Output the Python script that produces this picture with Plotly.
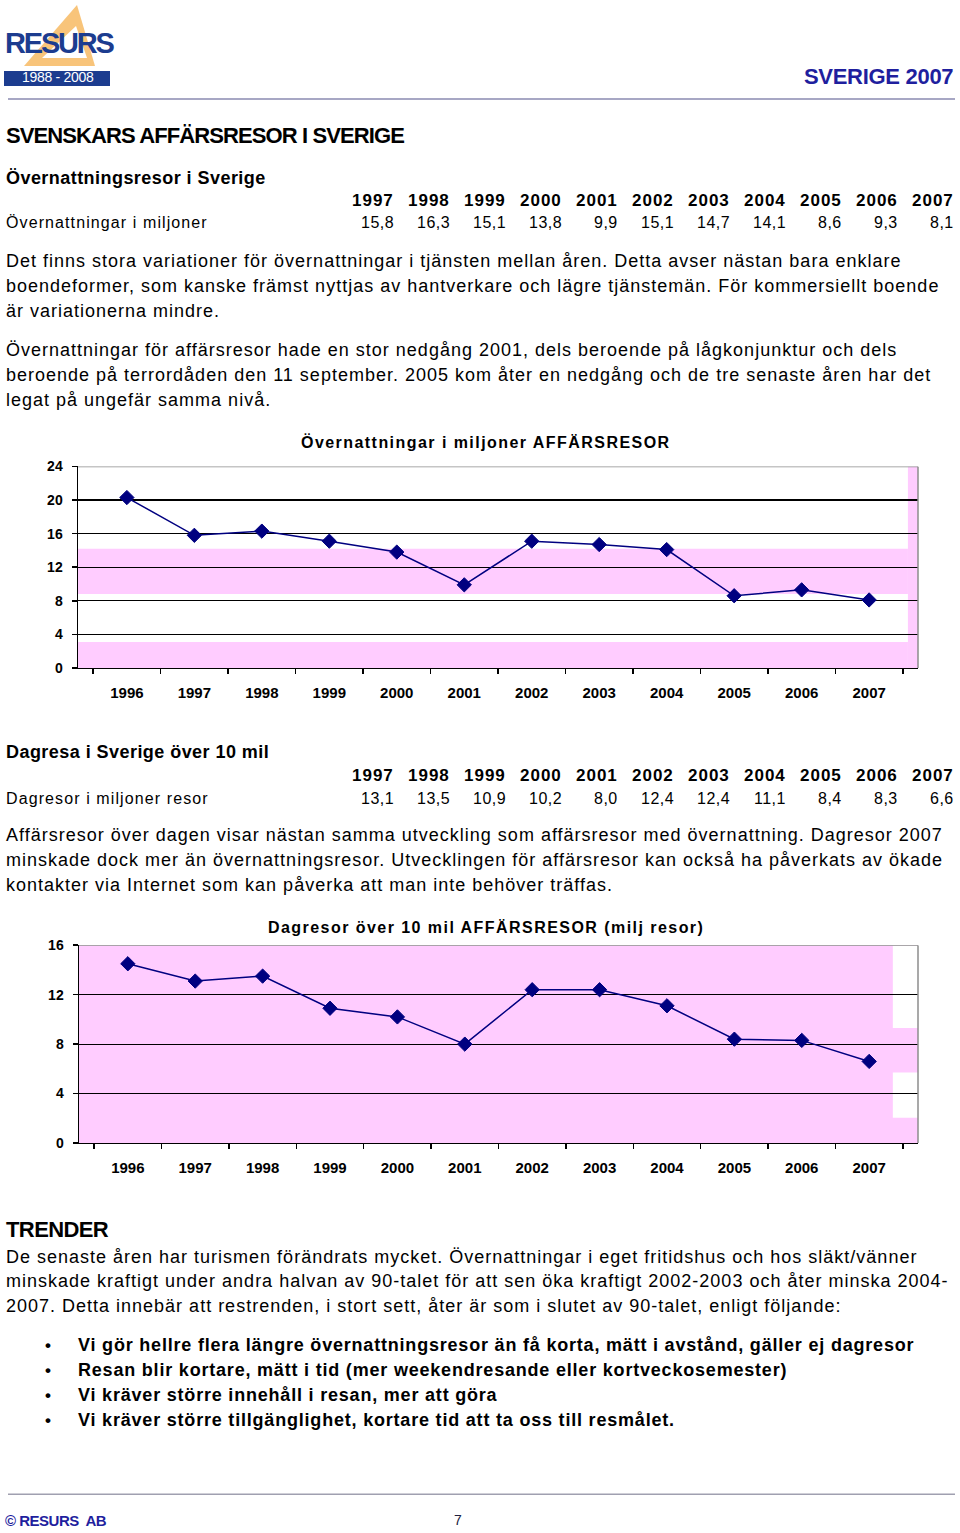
import plotly.graph_objects as go

W, H = 960, 1533
FONT = "Arial, 'Liberation Sans', Helvetica, sans-serif"

# ---------------- data ----------------
years_table = ["1997", "1998", "1999", "2000", "2001", "2002", "2003", "2004", "2005", "2006", "2007"]
overnight_table = [15.8, 16.3, 15.1, 13.8, 9.9, 15.1, 14.7, 14.1, 8.6, 9.3, 8.1]
daytrip_table = [13.1, 13.5, 10.9, 10.2, 8.0, 12.4, 12.4, 11.1, 8.4, 8.3, 6.6]

chart_years = ["1996", "1997", "1998", "1999", "2000", "2001", "2002", "2003", "2004", "2005", "2006", "2007"]
overnight_chart = [20.3, 15.8, 16.3, 15.1, 13.8, 9.9, 15.1, 14.7, 14.1, 8.6, 9.3, 8.1]
daytrip_chart = [14.5, 13.1, 13.5, 10.9, 10.2, 8.0, 12.4, 12.4, 11.1, 8.4, 8.3, 6.6]

y1_ticks = [0, 4, 8, 12, 16, 20, 24]
y2_ticks = [0, 4, 8, 12, 16]

para1 = [
    "Det finns stora variationer för övernattningar i tjänsten mellan åren. Detta avser nästan bara enklare",
    "boendeformer, som kanske främst nyttjas av hantverkare och lägre tjänstemän. För kommersiellt boende",
    "är variationerna mindre.",
]
para2 = [
    "Övernattningar för affärsresor hade en stor nedgång 2001, dels beroende på lågkonjunktur och dels",
    "beroende på terrordåden den 11 september. 2005 kom åter en nedgång och de tre senaste åren har det",
    "legat på ungefär samma nivå.",
]
para3 = [
    "Affärsresor över dagen visar nästan samma utveckling som affärsresor med övernattning. Dagresor 2007",
    "minskade dock mer än övernattningsresor. Utvecklingen för affärsresor kan också ha påverkats av ökade",
    "kontakter via Internet som kan påverka att man inte behöver träffas.",
]
para4 = [
    "De senaste åren har turismen förändrats mycket. Övernattningar i eget fritidshus och hos släkt/vänner",
    "minskade kraftigt under andra halvan av 90-talet för att sen öka kraftigt 2002-2003 och åter minska 2004-",
    "2007. Detta innebär att restrenden, i stort sett, åter är som i slutet av 90-talet, enligt följande:",
]
bullets = [
    "Vi gör hellre flera längre övernattningsresor än få korta, mätt i avstånd, gäller ej dagresor",
    "Resan blir kortare, mätt i tid (mer weekendresande eller kortveckosemester)",
    "Vi kräver större innehåll i resan, mer att göra",
    "Vi kräver större tillgänglighet, kortare tid att ta oss till resmålet.",
]

title1 = "Övernattningar i miljoner AFFÄRSRESOR"
title2 = "Dagresor över 10 mil AFFÄRSRESOR (milj resor)"

NAVY = "#000080"
PINK = "#ffccff"
BLUE = "#1f1f9e"
LOGO_BLUE = "#1c3c8f"
LOGO_ORANGE = "#f8c47a"

# vertical calibration of the page capture
VS, VOFF = 0.9907, 6.0


def X(p):
    return p / W


def Y(p):
    return 1 - ((p - VOFF) / VS) / H


annotations = []


def txt(s, x, y, size=17, bold=False, color="#000000", anchor="left", ls=None):
    t = s
    if ls is not None:
        t = f'<span style="letter-spacing:{ls}px">{s}</span>'
    annotations.append(dict(
        text=t, x=X(x), y=Y(y - 1), xref="paper", yref="paper",
        xanchor=anchor, yanchor="middle", showarrow=False,
        font=dict(family=FONT, size=size, color=color, weight="bold" if bold else "normal"),
    ))


def fmt(v):
    return f"{v:.1f}".replace(".", ",")


# ---------------- header ----------------
txt("SVERIGE 2007", 955, 76, size=22, bold=True, color=BLUE, anchor="right", ls=-0.3)
txt("RESURS", 3, 42, size=29, bold=True, color=LOGO_BLUE, ls=-2.2)
txt("1988 - 2008", 58, 76.5, size=14, color="#ffffff", anchor="center", ls=-0.3)

# ---------------- section 1 ----------------
txt("SVENSKARS AFFÄRSRESOR I SVERIGE", 4, 135, size=22, bold=True, ls=-0.9)
txt("Övernattningsresor i Sverige", 4, 177, size=18, bold=True, ls=0.45)
for i, yr in enumerate(years_table):
    txt(yr, 396 + 56 * i, 200, size=17, bold=True, anchor="right", ls=1.0)
txt("Övernattningar i miljoner", 4, 222, size=16, ls=1.1)
for i, v in enumerate(overnight_table):
    txt(fmt(v), 396 + 56 * i, 222, size=16, anchor="right", ls=0.5)
for k, line in enumerate(para1):
    txt(line, 4, 260 + 25 * k, size=18, ls=1.0)
for k, line in enumerate(para2):
    txt(line, 4, 349 + 25 * k, size=18, ls=1.0)
txt(title1, 486, 441, size=16, bold=True, anchor="center", ls=1.45)

# ---------------- section 2 ----------------
txt("Dagresa i Sverige över 10 mil", 4, 752, size=18, bold=True, ls=0.45)
for i, yr in enumerate(years_table):
    txt(yr, 396 + 56 * i, 775, size=17, bold=True, anchor="right", ls=1.0)
txt("Dagresor i miljoner resor", 4, 798, size=16, ls=1.1)
for i, v in enumerate(daytrip_table):
    txt(fmt(v), 396 + 56 * i, 798, size=16, anchor="right", ls=0.5)
for k, line in enumerate(para3):
    txt(line, 4, 835 + 25 * k, size=18, ls=1.0)
txt(title2, 486, 928, size=16, bold=True, anchor="center", ls=1.45)

# ---------------- trends ----------------
txt("TRENDER", 4, 1230, size=22, bold=True, ls=-0.6)
for k, line in enumerate(para4):
    txt(line, 4, 1257 + 24.5 * k, size=18, ls=1.0)
for k, line in enumerate(bullets):
    txt("•", 43, 1346 + 25 * k, size=17, bold=True)
    txt(line, 76, 1346 + 25 * k, size=18, bold=True, ls=0.8)

# ---------------- footer ----------------
txt("© RESURS  AB", 3, 1521, size=15, bold=True, color=BLUE, ls=-0.5)
txt("7", 452, 1521, size=14, color="#202040")

# ---------------- shapes ----------------
shapes = []
# logo triangle (outer orange, inner white)
shapes.append(dict(type="path", xref="paper", yref="paper",
                   path=f"M {X(77)},{Y(3)} L {X(24)},{Y(64)} L {X(95)},{Y(64)} Z",
                   line=dict(width=0), fillcolor=LOGO_ORANGE, layer="below"))
shapes.append(dict(type="path", xref="paper", yref="paper",
                   path=f"M {X(76)},{Y(24)} L {X(42)},{Y(56)} L {X(87)},{Y(56)} Z",
                   line=dict(width=0), fillcolor="#ffffff", layer="below"))
shapes.append(dict(type="rect", xref="paper", yref="paper",
                   x0=X(4), x1=X(110), y0=Y(84), y1=Y(69),
                   fillcolor=LOGO_BLUE, line=dict(width=0), layer="below"))
# rules
shapes.append(dict(type="line", xref="paper", yref="paper", x0=X(8), x1=X(955), y0=Y(97), y1=Y(97),
                   line=dict(color="#8a8ab0", width=1.5)))
shapes.append(dict(type="line", xref="paper", yref="paper", x0=X(8), x1=X(955), y0=Y(1494), y1=Y(1494),
                   line=dict(color="#a0a0b0", width=1.5)))

# chart 1 background bands
for (a, b, c, d) in [(0, 0.988, 8.8, 14.2), (0, 0.988, 0, 3.1), (0.988, 1, 0, 24)]:
    shapes.append(dict(type="rect", xref="x domain", yref="y", x0=a, x1=b, y0=c, y1=d,
                       fillcolor=PINK, line=dict(width=0), layer="below"))
# chart 2 background
shapes.append(dict(type="rect", xref="x2 domain", yref="y2", x0=0, x1=1, y0=0, y1=16,
                   fillcolor=PINK, line=dict(width=0), layer="below"))
for (c, d) in [(9.3, 16), (2.05, 5.7)]:
    shapes.append(dict(type="rect", xref="x2 domain", yref="y2", x0=0.970, x1=1, y0=c, y1=d,
                       fillcolor="#ffffff", line=dict(width=0), layer="below"))
# gray top/right borders
for xr, yr, top in [("x domain", "y", 24), ("x2 domain", "y2", 16)]:
    shapes.append(dict(type="line", xref=xr, yref=yr, x0=0, x1=1, y0=top, y1=top,
                       line=dict(color="#8c8c8c", width=1.5), layer="above"))
    shapes.append(dict(type="line", xref=xr, yref=yr, x0=1, x1=1, y0=0, y1=top,
                       line=dict(color="#8c8c8c", width=1.5), layer="above"))

# ---------------- traces ----------------
fig = go.Figure()
for xs, ys, xa, ya in [(chart_years, overnight_chart, "x", "y"), (chart_years, daytrip_chart, "x2", "y2")]:
    fig.add_trace(go.Scatter(
        x=xs, y=ys, xaxis=xa, yaxis=ya, mode="lines+markers",
        line=dict(color=NAVY, width=1.5),
        marker=dict(symbol="diamond", size=11, color=NAVY, line=dict(color=NAVY, width=1)),
        cliponaxis=False, hoverinfo="skip",
    ))

xcommon = dict(type="category", categoryorder="array", categoryarray=chart_years,
               tickson="boundaries", ticks="outside", ticklen=5, tickcolor="#000000", tickwidth=1.5,
               showline=True, linecolor="#000000", linewidth=1.5, showgrid=False, zeroline=False,
               tickfont=dict(family=FONT, size=15, color="#000000", weight="bold"),
               ticklabelstandoff=11, fixedrange=True)
ycommon = dict(ticks="outside", ticklen=5, tickcolor="#000000", tickwidth=1.5,
               showline=True, linecolor="#000000", linewidth=1.5, zeroline=False,
               showgrid=True, gridcolor="#000000", gridwidth=1.2,
               tickfont=dict(family=FONT, size=14, color="#000000", weight="bold"),
               ticklabelstandoff=6, fixedrange=True)

fig.update_layout(
    width=W, height=H, autosize=False,
    margin=dict(l=0, r=0, t=0, b=0),
    paper_bgcolor="#ffffff", plot_bgcolor="#ffffff",
    showlegend=False,
    xaxis=dict(domain=[X(78), X(918)], anchor="y", **xcommon),
    yaxis=dict(domain=[Y(666.7), Y(465)], anchor="x", range=[0, 24], tickvals=y1_ticks, **ycommon),
    xaxis2=dict(domain=[X(79), X(918)], anchor="y2", **xcommon),
    yaxis2=dict(domain=[Y(1142.3), Y(944.3)], anchor="x2", range=[0, 16], tickvals=y2_ticks, **ycommon),
    annotations=annotations,
    shapes=shapes,
)

fig.write_html(
    "out.html",
    config={"displayModeBar": False, "staticPlot": True},
    post_script="document.body.style.margin='0';document.body.style.padding='0';document.body.style.overflow='hidden';",
)
